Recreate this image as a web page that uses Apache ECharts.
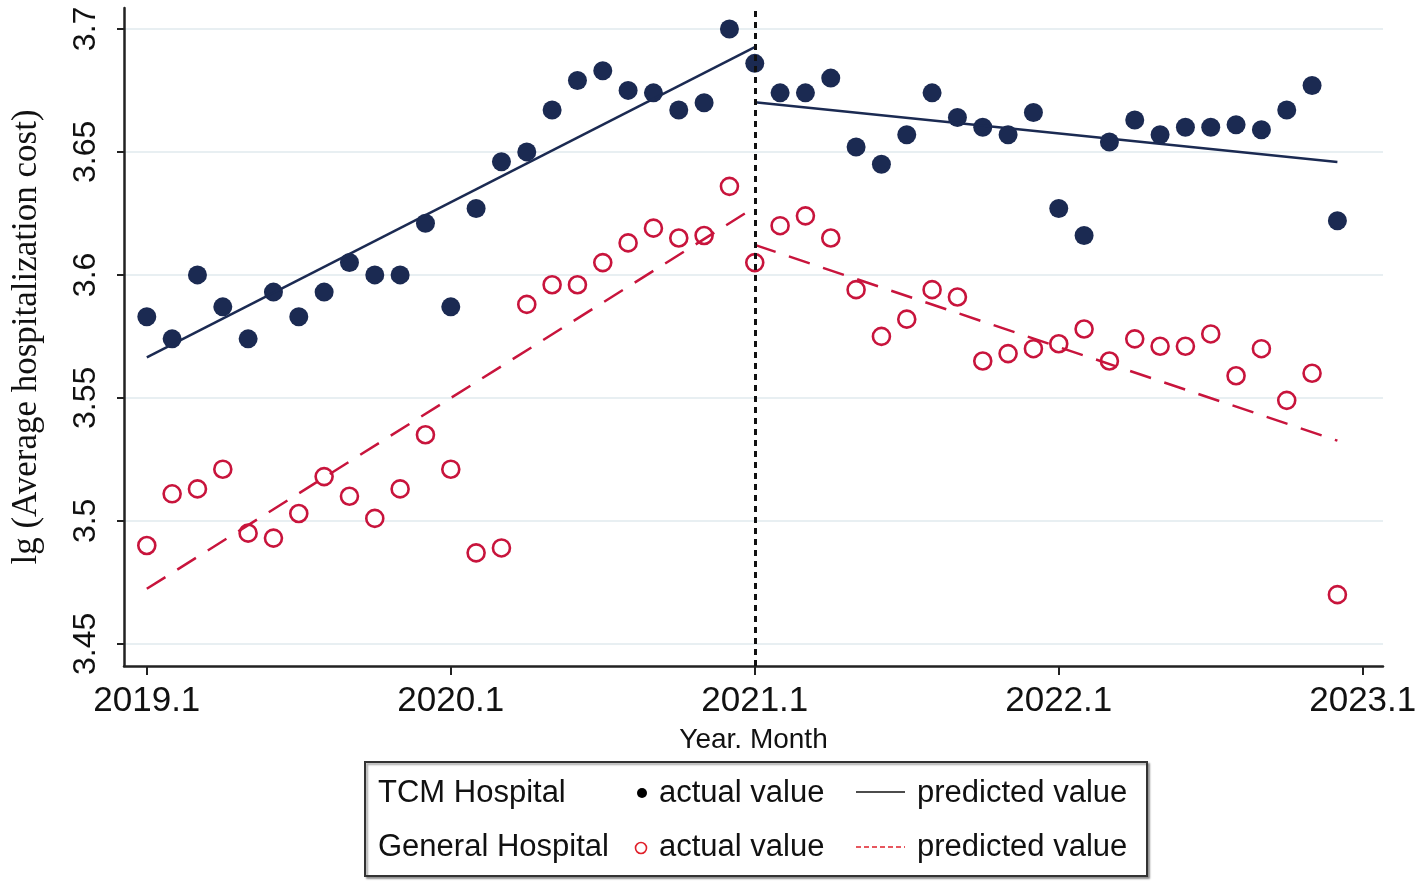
<!DOCTYPE html>
<html>
<head>
<meta charset="utf-8">
<style>html,body{margin:0;padding:0;background:#fff;}#c{width:1418px;height:884px;}</style>
<script src="https://cdn.jsdelivr.net/npm/echarts@6/dist/echarts.min.js"></script>
</head>
<body>
<div id="c"></div>
<script>
// month index 0 = 2019.1
const tickMonths = [0, 12, 24, 36, 48];
const tickLabels = ['2019.1', '2020.1', '2021.1', '2022.1', '2023.1'];
const yTicks = [3.45, 3.5, 3.55, 3.6, 3.65, 3.7];

const tcmActual = [3.583, 3.574, 3.600, 3.587, 3.574, 3.593, 3.583, 3.593, 3.605, 3.600, 3.600, 3.621,
  3.587, 3.627, 3.646, 3.650, 3.667, 3.679, 3.683, 3.675, 3.674, 3.667, 3.670, 3.700,
  3.686, 3.674, 3.674, 3.680, 3.652, 3.645, 3.657, 3.674, 3.664, 3.660, 3.657, 3.666,
  3.627, 3.616, 3.654, 3.663, 3.657, 3.660, 3.660, 3.661, 3.659, 3.667, 3.677, 3.622];
const genActual = [3.490, 3.511, 3.513, 3.521, 3.495, 3.493, 3.503, 3.518, 3.510, 3.501, 3.513, 3.535,
  3.521, 3.487, 3.489, 3.588, 3.596, 3.596, 3.605, 3.613, 3.619, 3.615, 3.616, 3.636,
  3.605, 3.620, 3.624, 3.615, 3.594, 3.575, 3.582, 3.594, 3.591, 3.565, 3.568, 3.570,
  3.572, 3.578, 3.565, 3.574, 3.571, 3.571, 3.576, 3.559, 3.570, 3.549, 3.560, 3.470];
// predicted segments: [month, value] endpoints
const tcmPredPre = [[0, 3.5665], [24, 3.6926]];
const tcmPredPost = [[24, 3.6702], [47, 3.6459]];
const genPredPre = [[0, 3.4724], [24, 3.6275]];
const genPredPost = [[24, 3.6122], [47, 3.5326]];
const interruption = 24;

const NAVY = '#1b2a52';
const RED = '#c8143c';

const chart = echarts.init(document.getElementById('c'));
const toXY = arr => arr.map((v, i) => [i, v]);
const SANS = 'Liberation Sans, Arial';

chart.setOption({
  animation: false,
  backgroundColor: '#fff',
  grid: { left: 124, right: 35, top: 8, bottom: 218, containLabel: false, outerBoundsMode: 'none' },
  xAxis: {
    type: 'value', min: -0.9, max: 48.8,
    name: 'Year. Month', nameLocation: 'middle', nameGap: 60,
    nameTextStyle: { fontFamily: SANS, fontSize: 28, color: '#111' },
    axisLine: { show: true, onZero: false, lineStyle: { color: '#222', width: 2.5 } },
    axisTick: { show: true, length: 9, customValues: tickMonths, lineStyle: { color: '#222', width: 2 } },
    axisLabel: {
      customValues: tickMonths, margin: 18,
      fontFamily: SANS, fontSize: 35, color: '#111',
      formatter: v => tickLabels[tickMonths.indexOf(v)] || ''
    },
    splitLine: { show: false }
  },
  yAxis: {
    type: 'value', min: 3.441, max: 3.7085,
    name: 'lg (Average hospitalization cost)', nameLocation: 'middle', nameGap: 80,
    nameRotate: 90,
    nameTextStyle: { fontFamily: 'Liberation Serif, Times New Roman', fontSize: 35, color: '#111' },
    axisLine: { show: true, onZero: false, lineStyle: { color: '#222', width: 2.5 } },
    axisTick: { show: true, length: 7, customValues: yTicks, lineStyle: { color: '#222', width: 2 } },
    axisLabel: {
      customValues: yTicks, rotate: 90, margin: 22,
      fontFamily: SANS, fontSize: 32, color: '#111',
      formatter: v => String(Math.round(v * 100) / 100)
    },
    splitLine: { show: true, lineStyle: { color: '#e8eff2', width: 2 } }
  },
  series: [
    {
      type: 'scatter', name: 'TCM actual', data: toXY(tcmActual),
      symbol: 'circle', symbolSize: 19, itemStyle: { color: NAVY, opacity: 1 }, z: 3,
      markLine: {
        silent: true, symbol: 'none', label: { show: false },
        lineStyle: { color: '#111', type: [6, 5], width: 3 },
        data: [{ xAxis: interruption }]
      }
    },
    {
      type: 'scatter', name: 'General actual', data: toXY(genActual),
      symbol: 'circle', symbolSize: 17,
      itemStyle: { color: '#fff', borderColor: RED, borderWidth: 2.6, opacity: 1 }, z: 3
    },
    { type: 'line', data: tcmPredPre, symbol: 'none', lineStyle: { color: NAVY, width: 2.5 }, z: 4 },
    { type: 'line', data: tcmPredPost, symbol: 'none', lineStyle: { color: NAVY, width: 2.5 }, z: 4 },
    { type: 'line', data: genPredPre, symbol: 'none', lineStyle: { color: RED, width: 2.5, type: [22, 14] }, z: 4 },
    { type: 'line', data: genPredPost, symbol: 'none', lineStyle: { color: RED, width: 2.5, type: [22, 14] }, z: 4 }
  ],
  graphic: [
    { type: 'rect', shape: { x: 365, y: 762, width: 782, height: 114 },
      style: { fill: '#fff', stroke: '#333', lineWidth: 2, shadowColor: 'rgba(0,0,0,0.35)', shadowOffsetX: 2, shadowOffsetY: 2, shadowBlur: 2 } },
    { type: 'text', x: 378, y: 793, style: { text: 'TCM Hospital', fontFamily: SANS, fontSize: 31, fill: '#111', textVerticalAlign: 'middle' } },
    { type: 'circle', shape: { cx: 642, cy: 793, r: 5 }, style: { fill: '#000' } },
    { type: 'text', x: 659, y: 793, style: { text: 'actual value', fontFamily: SANS, fontSize: 31, fill: '#111', textVerticalAlign: 'middle' } },
    { type: 'line', shape: { x1: 856, y1: 792, x2: 905, y2: 792 }, style: { stroke: '#111', lineWidth: 1.6 } },
    { type: 'text', x: 917, y: 793, style: { text: 'predicted value', fontFamily: SANS, fontSize: 31, fill: '#111', textVerticalAlign: 'middle' } },
    { type: 'text', x: 378, y: 847, style: { text: 'General Hospital', fontFamily: SANS, fontSize: 31, fill: '#111', textVerticalAlign: 'middle' } },
    { type: 'circle', shape: { cx: 641, cy: 848, r: 5.5 }, style: { fill: '#fff', stroke: '#e0202a', lineWidth: 1.6 } },
    { type: 'text', x: 659, y: 847, style: { text: 'actual value', fontFamily: SANS, fontSize: 31, fill: '#111', textVerticalAlign: 'middle' } },
    { type: 'line', shape: { x1: 856, y1: 847, x2: 905, y2: 847 }, style: { stroke: '#e0202a', lineWidth: 1.6, lineDash: [5, 3] } },
    { type: 'text', x: 917, y: 847, style: { text: 'predicted value', fontFamily: SANS, fontSize: 31, fill: '#111', textVerticalAlign: 'middle' } }
  ]
});
</script>
</body>
</html>
